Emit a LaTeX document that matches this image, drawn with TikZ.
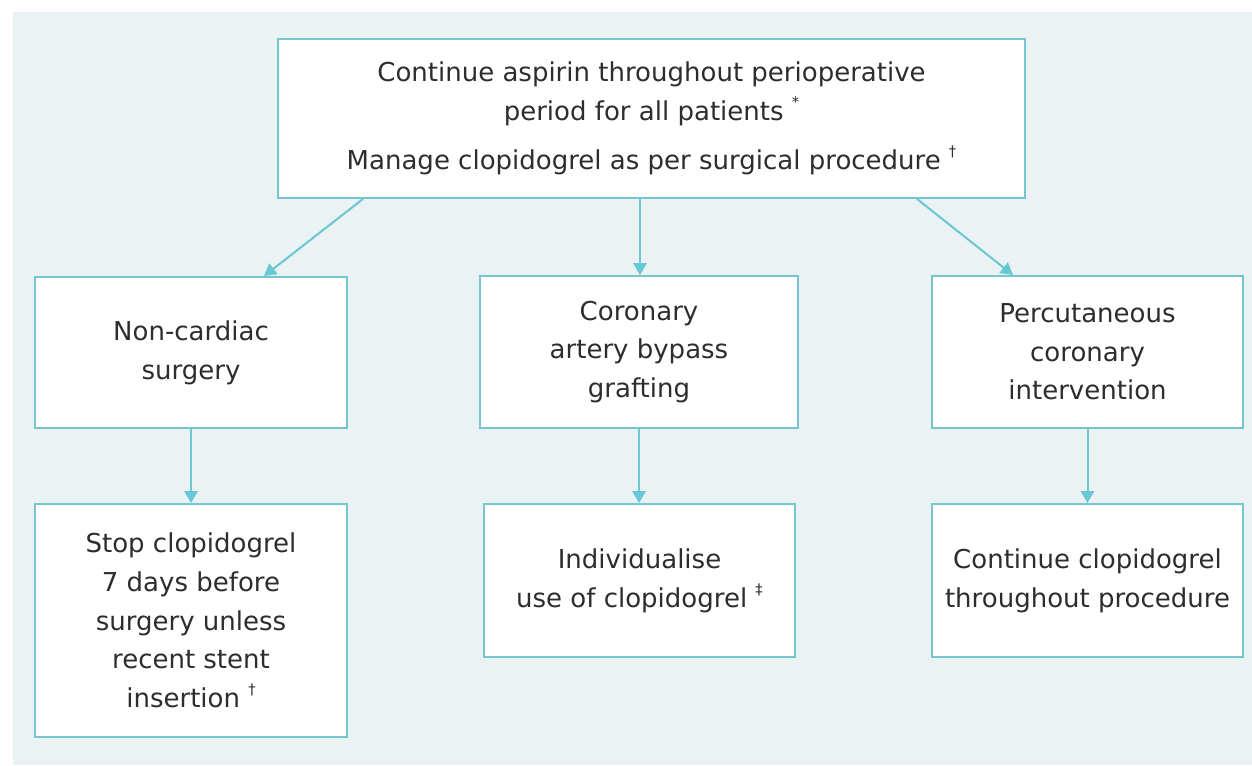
\documentclass[tikz,border=0pt]{standalone}
\usepackage{fontspec}
\setmainfont{DejaVu Sans}
\usetikzlibrary{arrows.meta,calc}
\definecolor{bgcol}{RGB}{235,242,244}
\definecolor{edgecol}{RGB}{118,198,210}
\definecolor{arrcol}{RGB}{104,200,212}
\definecolor{txtcol}{RGB}{45,45,45}
\tikzset{
  box/.style={draw=edgecol, line width=1.4pt, fill=white, rectangle, align=center,
    text=txtcol, inner sep=0pt, font=\fontsize{19.5}{29}\selectfont},
  arr/.style={draw=arrcol, line width=1.5pt, -{Triangle[length=9pt,width=10pt]}},
}
\newcommand{\fn}[1]{\raisebox{0.5em}{\fontsize{11}{11}\selectfont #1}}
\begin{document}
\begin{tikzpicture}[x=0.75pt,y=-0.75pt]
\useasboundingbox (0,0) rectangle (1252,765);
\fill[bgcol] (13,12) rectangle (1252,765);
\node[box, minimum width=560.25pt, minimum height=119.25pt] (top) at (651.5,118.5)
  {Continue aspirin throughout perioperative\\period for all patients \fn{*}\\[8pt]Manage clopidogrel as per surgical procedure \fn{†}};
\node[box, minimum width=234pt, minimum height=113.25pt] (nc) at (191,352.5)
  {Non-cardiac\\surgery};
\node[box, minimum width=238.5pt, minimum height=114pt] (cabg) at (639,352)
  {Coronary\\artery bypass\\grafting};
\node[box, minimum width=233.25pt, minimum height=114pt] (pci) at (1087.5,352)
  {Percutaneous\\coronary\\intervention};
\node[box, minimum width=234pt, minimum height=174.75pt] (stop) at (191,620.5)
  {Stop clopidogrel\\7 days before\\surgery unless\\recent stent\\insertion \fn{†}};
\node[box, minimum width=233.25pt, minimum height=114.75pt] (ind) at (639.5,580.5)
  {Individualise\\use of clopidogrel \fn{‡}};
\node[box, minimum width=233.25pt, minimum height=114.75pt] (cont) at (1087.5,580.5)
  {Continue clopidogrel\\throughout procedure};
\draw[arr] ($(top.south)+(-288.5,0)$) -- ($(nc.north)+(73,0)$);
\draw[arr] ($(top.south)+(-11.5,0)$) -- ($(cabg.north)+(1,0)$);
\draw[arr] ($(top.south)+(265.5,0)$) -- ($(pci.north)+(-74.5,0)$);
\draw[arr] (nc.south) -- (nc.south |- stop.north);
\draw[arr] (cabg.south) -- (cabg.south |- ind.north);
\draw[arr] (pci.south) -- (pci.south |- cont.north);
\end{tikzpicture}
\end{document}
